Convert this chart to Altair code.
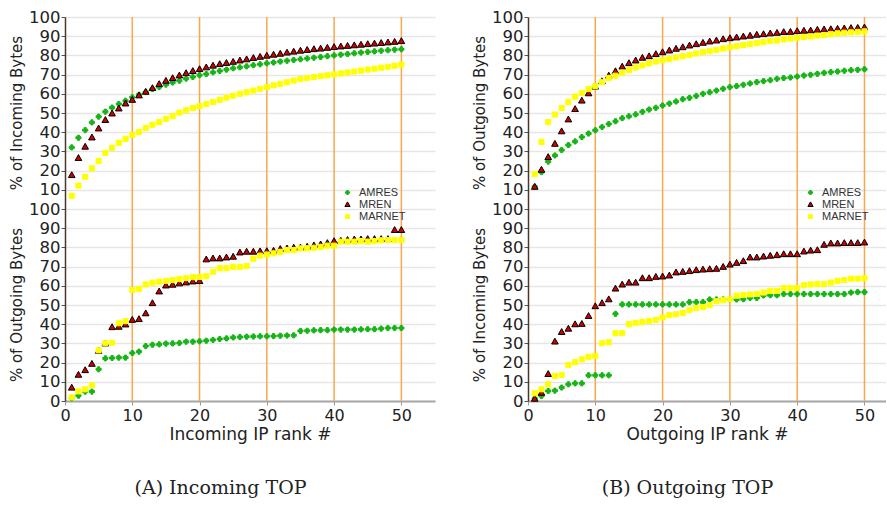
import altair as alt
import pandas as pd

SERIES = ["AMRES", "MREN", "MARNET"]
ranks = list(range(1, 51))

# (a) Incoming TOP - upper: % of Incoming Bytes
a_top_amres = [32.1, 37.1, 41.1, 45.1, 48.1, 50.7, 52.8, 54.7, 56.4, 58.2,
               59.5, 60.9, 62.5, 63.5, 64.8, 65.9, 66.8, 67.9, 68.8, 69.7,
               70.3, 71.2, 71.9, 72.6, 73.3, 73.8, 74.3, 74.9, 75.4, 75.9,
               76.3, 76.8, 77.2, 77.6, 78.0, 78.4, 78.8, 79.2, 79.6, 80.0,
               80.4, 80.7, 81.1, 81.5, 81.8, 82.1, 82.4, 82.7, 83.0, 83.2]
a_top_mren = [17.7, 26.6, 32.5, 37.3, 42.0, 46.4, 49.8, 52.4, 55.0, 56.9,
              59.2, 61.1, 63.0, 65.1, 66.8, 68.2, 69.6, 70.8, 71.9, 72.9,
              73.8, 74.7, 75.5, 76.1, 76.7, 77.4, 78.0, 78.7, 79.3, 79.9,
              80.4, 80.9, 81.5, 82.0, 82.5, 82.9, 83.3, 83.6, 84.0, 84.4,
              84.7, 85.0, 85.3, 85.6, 85.9, 86.2, 86.5, 86.8, 87.1, 87.5]
a_top_marnet = [6.9, 12.2, 16.8, 21.2, 25.0, 29.2, 31.9, 34.5, 36.5, 38.7,
                40.1, 42.2, 43.9, 45.3, 47.0, 48.4, 50.2, 51.4, 52.6, 53.6,
                54.7, 55.7, 56.9, 58.0, 59.0, 60.0, 60.8, 61.7, 62.6, 63.5,
                64.4, 65.2, 66.0, 66.9, 67.7, 68.2, 68.7, 69.2, 69.6, 70.1,
                70.6, 71.1, 71.6, 72.1, 72.6, 73.1, 73.6, 74.1, 74.6, 75.2]
# (a) Incoming TOP - lower: % of Outgoing Bytes
a_bot_amres = [1.4, 2.8, 4.9, 4.9, 16.5, 22.2, 22.4, 22.6, 22.6, 25.0,
               25.7, 28.6, 29.3, 29.5, 29.9, 30.0, 30.2, 30.9, 30.9, 31.1,
               31.4, 31.8, 32.3, 32.6, 33.1, 33.3, 33.5, 33.6, 33.7, 33.7,
               33.8, 34.0, 34.1, 34.2, 36.5, 36.6, 36.8, 36.9, 36.9, 37.2,
               37.2, 37.2, 37.2, 37.3, 37.4, 37.4, 37.7, 38.0, 38.0, 38.0]
a_bot_mren = [7.0, 13.7, 16.1, 19.4, 26.2, 30.0, 38.5, 38.7, 39.9, 42.3,
              42.7, 45.7, 51.0, 57.1, 60.2, 60.6, 61.3, 61.8, 62.3, 62.5,
              73.8, 74.3, 74.3, 74.8, 75.2, 77.4, 77.8, 77.8, 78.0, 78.1,
              78.3, 79.2, 79.5, 79.9, 80.0, 80.4, 81.1, 81.6, 82.3, 83.3,
              83.5, 83.9, 84.2, 84.2, 84.4, 84.4, 84.4, 84.4, 89.1, 89.1]
a_bot_marnet = [1.9, 5.0, 6.1, 8.2, 26.4, 30.1, 30.3, 40.5, 41.6, 57.9,
                58.4, 60.7, 61.6, 62.1, 62.6, 63.0, 63.5, 64.0, 64.5, 64.6,
                65.0, 67.3, 69.2, 69.2, 69.9, 69.9, 70.4, 74.1, 75.7, 76.3,
                76.9, 77.7, 78.6, 78.6, 79.5, 79.6, 79.8, 80.3, 80.9, 80.9,
                83.0, 83.0, 83.0, 83.3, 83.0, 83.3, 83.7, 83.8, 83.8, 83.8]

# (b) Outgoing TOP - upper: % of Outgoing Bytes
b_top_amres = [11.6, 19.2, 24.7, 27.9, 30.7, 33.3, 35.2, 37.5, 39.3, 41.0,
               42.7, 44.3, 45.7, 47.3, 48.3, 49.3, 50.6, 51.8, 52.7, 53.9,
               54.9, 56.0, 57.2, 57.9, 58.9, 60.0, 60.8, 61.7, 62.6, 63.5,
               64.0, 64.7, 65.4, 66.1, 66.6, 67.1, 67.8, 68.2, 68.5, 69.0,
               69.5, 69.9, 70.4, 70.9, 71.3, 71.6, 72.0, 72.3, 72.5, 72.8]
b_top_mren = [11.6, 20.5, 27.1, 34.0, 40.5, 46.7, 52.1, 56.5, 60.3, 63.8,
              66.6, 69.5, 71.8, 74.2, 76.0, 77.4, 78.8, 79.6, 80.7, 81.7,
              82.6, 83.5, 84.3, 85.2, 85.9, 86.6, 87.3, 87.8, 88.5, 89.0,
              89.4, 89.9, 90.3, 90.8, 91.1, 91.5, 91.8, 92.2, 92.3, 92.7,
              92.9, 93.0, 93.4, 93.6, 93.7, 93.9, 94.1, 94.3, 94.4, 94.6]
b_top_marnet = [18.2, 34.9, 45.3, 49.2, 52.6, 55.7, 58.5, 60.5, 62.5, 64.0,
                66.2, 68.3, 69.4, 71.1, 72.3, 73.7, 74.8, 75.8, 76.8, 77.5,
                78.2, 78.9, 79.6, 80.3, 81.0, 81.7, 82.2, 82.9, 83.6, 84.2,
                84.8, 85.4, 85.9, 86.4, 86.9, 87.5, 87.8, 88.3, 88.8, 89.2,
                89.6, 89.9, 90.3, 90.6, 91.1, 91.5, 91.8, 92.0, 92.2, 92.5]
# (b) Outgoing TOP - lower: % of Incoming Bytes
b_bot_amres = [1.2, 2.6, 5.2, 5.4, 7.0, 8.7, 9.2, 9.2, 13.4, 13.4,
               13.4, 13.4, 45.4, 50.3, 50.3, 50.3, 50.3, 50.3, 50.3, 50.3,
               50.3, 50.3, 50.3, 51.5, 51.5, 51.5, 52.9, 52.9, 52.9, 53.0,
               52.9, 53.0, 53.7, 53.7, 55.0, 55.1, 55.1, 55.7, 55.7, 55.7,
               55.7, 55.7, 55.7, 55.7, 55.7, 55.7, 55.7, 56.5, 56.7, 56.7]
b_bot_mren = [1.2, 4.3, 14.1, 31.0, 36.0, 37.7, 40.0, 40.2, 44.3, 49.4,
              51.0, 53.0, 58.6, 60.7, 61.7, 61.7, 64.0, 64.0, 64.7, 64.9,
              65.4, 67.0, 67.3, 67.7, 68.2, 68.5, 68.7, 68.9, 69.9, 71.1,
              72.0, 72.9, 74.8, 74.8, 75.3, 75.7, 76.0, 76.5, 76.5, 76.5,
              77.9, 78.4, 78.6, 81.4, 82.1, 82.1, 82.3, 82.3, 82.3, 82.6]
b_bot_marnet = [4.0, 6.1, 8.7, 13.0, 13.6, 18.8, 20.2, 21.7, 23.0, 23.5,
                30.1, 30.6, 35.3, 35.3, 40.0, 40.7, 41.2, 41.7, 42.3, 43.5,
                44.7, 45.2, 45.9, 47.3, 48.5, 48.9, 49.9, 52.0, 52.5, 53.0,
                54.8, 55.3, 55.5, 55.8, 56.5, 57.4, 57.4, 58.8, 58.8, 58.8,
                60.3, 60.7, 60.9, 60.9, 61.7, 62.6, 63.0, 63.7, 63.7, 64.0]

vlines = [10, 20, 30, 40, 50]
x_ticks = [0, 10, 20, 30, 40, 50]
y_ticks = list(range(0, 201, 10))

FILL = ["#17b317", "#cc0000", "#ffff00"]
STROKE = ["#17b317", "#000000", "#ffff00"]
SHAPES = ["cross", "M0,-1.3L1.3,1L-1.3,1Z", "square"]

SANS = "DejaVu Sans"
CH = dict(fill="independent", stroke="independent", shape="independent")


def build_df(top, bottom):
    rows = []
    for name, vals in zip(SERIES, top):
        for r, v in zip(ranks, vals):
            rows.append({"rank": r, "value": v, "pos": v + 100, "series": name})
    for name, vals in zip(SERIES, bottom):
        for r, v in zip(ranks, vals):
            rows.append({"rank": r, "value": v, "pos": v, "series": name})
    order = {s: i for i, s in enumerate(SERIES)}
    rows.sort(key=lambda d: order[d["series"]])
    return pd.DataFrame(rows)


def panel(top, bottom, top_title, bot_title, xtitle, caption, xmax, width, cap_dx):
    df = build_df(top, bottom)
    xscale = alt.Scale(domain=[0, xmax], nice=False, zero=False)
    xaxis = alt.Axis(values=x_ticks, title=xtitle, grid=False,
                     labelFont=SANS, labelFontSize=16, labelColor="#222",
                     titleFont=SANS, titleFontSize=17, titleFontWeight="normal",
                     titleColor="#222", titlePadding=3, labelPadding=2,
                     tickSize=4, tickColor="#999", domainColor="#a8a8a8",
                     domainWidth=2, labelFlush=False)
    yaxis = alt.Axis(values=y_ticks,
                     labelExpr="datum.value > 100 ? datum.value - 100 : datum.value",
                     title=None, grid=True, gridColor="#e6e6e6", gridWidth=1.5,
                     labelFont=SANS, labelFontSize=16.5, labelColor="#222",
                     labelPadding=1, tickSize=4, tickColor="#555",
                     domainColor="#4a3826", domainWidth=1.5, labelFlush=False,
                     labelOverlap=False)

    rules = alt.Chart(pd.DataFrame({"rank": vlines})).mark_rule(
        color="#fba84a", strokeWidth=1.5
    ).encode(x=alt.X("rank:Q", scale=xscale, axis=xaxis))

    legend = alt.Legend(title=None, orient="none", legendX=277, legendY=170,
                        labelFont="Liberation Sans", labelFontSize=11,
                        labelColor="#333", rowPadding=0, padding=0,
                        symbolSize=16, symbolStrokeWidth=1, labelOffset=6)
    points = alt.Chart(df).mark_point(filled=True, opacity=1, strokeWidth=1, size=26).encode(
        x=alt.X("rank:Q", scale=xscale, axis=xaxis),
        y=alt.Y("pos:Q", scale=alt.Scale(domain=[0, 200], nice=False), axis=yaxis),
        fill=alt.Fill("series:N", scale=alt.Scale(domain=SERIES, range=FILL), legend=legend),
        stroke=alt.Stroke("series:N", scale=alt.Scale(domain=SERIES, range=STROKE), legend=legend),
        shape=alt.Shape("series:N", scale=alt.Scale(domain=SERIES, range=SHAPES), legend=legend),
    )

    t1 = alt.Chart(pd.DataFrame({"t": [top_title]})).mark_text(
        angle=270, font=SANS, fontSize=15, color="#222", align="center", baseline="middle"
    ).encode(text="t:N", x=alt.value(-48), y=alt.value(96))
    t2 = alt.Chart(pd.DataFrame({"t": [bot_title]})).mark_text(
        angle=270, font=SANS, fontSize=15, color="#222", align="center", baseline="middle"
    ).encode(text="t:N", x=alt.value(-48), y=alt.value(288))

    return alt.layer(rules, points, t1, t2).resolve_scale(**CH).resolve_legend(**CH).properties(
        width=width, height=384,
        title=alt.TitleParams(caption, orient="bottom", anchor="middle", frame="bounds",
                              font="DejaVu Serif", fontSize=19, fontWeight="normal",
                              color="#222", offset=37, dx=cap_dx)
    )


left = panel([a_top_amres, a_top_mren, a_top_marnet],
             [a_bot_amres, a_bot_mren, a_bot_marnet],
             "% of Incoming Bytes", "% of Outgoing Bytes",
             "Incoming IP rank #", "(A) Incoming TOP", 55, 370, -2)
right = panel([b_top_amres, b_top_mren, b_top_marnet],
              [b_bot_amres, b_bot_mren, b_bot_marnet],
              "% of Outgoing Bytes", "% of Incoming Bytes",
              "Outgoing IP rank #", "(B) Outgoing TOP", 53.2, 358, 8)

chart = alt.hconcat(left, right, spacing=38).resolve_scale(**CH).resolve_legend(**CH).properties(
    padding={"left": 10, "top": 9, "right": 0, "bottom": 0}, background="white"
).configure_view(stroke=None)

chart.save("out.html", embed_options={"renderer": "svg", "actions": False})
